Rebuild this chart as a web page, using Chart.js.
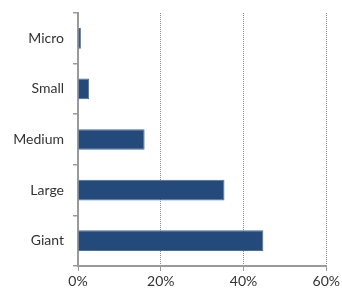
<!DOCTYPE html>
<html>
<head>
<meta charset="utf-8">
<script src="https://cdn.jsdelivr.net/npm/chart.js@4"></script>
<style>
  html, body { margin: 0; padding: 0; background: #fff; }
  #wrap { width: 342px; height: 288px; }
</style>
</head>
<body>
<div id="wrap"><canvas id="chart"></canvas></div>
<script>
const categories = ["Micro", "Small", "Medium", "Large", "Giant"];
const shares = [0.7, 2.7, 16.1, 35.4, 44.8];
const xTicks = [0, 20, 40, 60];

const axisColor = "#9a9a9a";

new Chart(document.querySelector("#chart"), {
  type: "bar",
  data: {
    labels: categories,
    datasets: [
      {
        data: shares,
        backgroundColor: "#234a7b",
        borderColor: "#4a6d99",
        borderWidth: 1,
        barPercentage: 0.41,
        categoryPercentage: 1,
      },
    ],
  },
  options: {
    indexAxis: "y",
    responsive: true,
    maintainAspectRatio: false,
    animation: false,
    layout: { padding: { top: 13, right: 15, left: 0, bottom: 0 } },
    plugins: { legend: { display: false }, tooltip: { enabled: false } },
    scales: {
      x: {
        min: 0,
        max: 60,
        afterBuildTicks: (scale) => {
          scale.ticks = xTicks.map((value) => ({ value }));
        },
        afterFit: (scale) => {
          scale.height = 22;
        },
        ticks: {
          color: "#333",
          font: { family: "Lato", size: 14 },
          padding: 2,
          callback: (value) => `${value}%`,
        },
        grid: {
          color: (ctx) => (ctx.tick && ctx.tick.value === 0 ? "rgba(0,0,0,0)" : "#8a8a8a"),
          tickColor: axisColor,
          tickLength: 5,
          lineWidth: 1,
          tickBorderDash: [],
        },
        border: { color: axisColor, width: 2, dash: [1, 1] },
      },
      y: {
        afterFit: (scale) => {
          scale.width = 78;
          scale.paddingTop = 0;
        },
        ticks: {
          color: "#333",
          font: { family: "Lato", size: 14 },
          padding: 9,
        },
        grid: {
          offset: true,
          drawOnChartArea: false,
          drawTicks: true,
          tickColor: axisColor,
          tickLength: 5,
          lineWidth: 1.5,
        },
        border: { color: axisColor, width: 2 },
      },
    },
  },
});
</script>
</body>
</html>
